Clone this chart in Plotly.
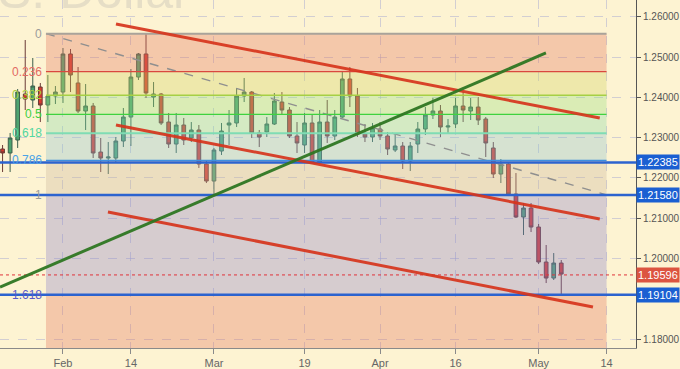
import plotly.graph_objects as go

# ---------------- data ----------------
day_index = list(range(-8, 67))  # business-day index, 0 = Feb 1
open_ = [1.22719, 1.22620, 1.22942, 1.24083, 1.23934, 1.24256, 1.23810, 1.24033,
         1.24132, 1.25075, 1.24356, 1.23661, 1.23785, 1.22644, 1.22495, 1.22495,
         1.22917, 1.23512, 1.24504, 1.25075, 1.24008, 1.24083, 1.23388, 1.22843,
         1.23314, 1.22992, 1.23190, 1.22347, 1.21925, 1.22669, 1.23314, 1.23364,
         1.24033, 1.24132, 1.23116, 1.23140, 1.23339, 1.23884, 1.23686, 1.23041,
         1.22818, 1.23364, 1.22396, 1.23388, 1.23041, 1.23512, 1.24455, 1.24033,
         1.23091, 1.23016, 1.23215, 1.23041, 1.22694, 1.22793, 1.22421, 1.22843,
         1.23215, 1.23562, 1.23661, 1.23264, 1.23339, 1.23785, 1.23661, 1.23760,
         1.23463, 1.22744, 1.22099, 1.22347, 1.21603, 1.21032, 1.21255, 1.20784,
         1.19916, 1.19519, 1.19891]
high = [1.22818, 1.23116, 1.24207, 1.25422, 1.24976, 1.24356, 1.24554, 1.24281,
        1.25224, 1.25199, 1.24752, 1.24331, 1.23860, 1.22992, 1.22892, 1.23016,
        1.23736, 1.24703, 1.25100, 1.25571, 1.24380, 1.24108, 1.23612, 1.23612,
        1.23488, 1.23388, 1.23314, 1.22446, 1.22744, 1.23364, 1.23686, 1.24232,
        1.24480, 1.24157, 1.23190, 1.23512, 1.24108, 1.24132, 1.23760, 1.23388,
        1.23612, 1.23562, 1.23686, 1.23934, 1.23686, 1.24628, 1.24752, 1.24232,
        1.23339, 1.23364, 1.23388, 1.23140, 1.23091, 1.22892, 1.22892, 1.23388,
        1.23760, 1.23984, 1.23810, 1.23463, 1.23984, 1.24132, 1.23984, 1.24008,
        1.23512, 1.22892, 1.22471, 1.22396, 1.22123, 1.21379, 1.21379, 1.20859,
        1.20338, 1.20139, 1.19966]
low = [1.22148, 1.22148, 1.22744, 1.23686, 1.23736, 1.23388, 1.23388, 1.23835,
       1.23860, 1.24132, 1.23612, 1.23190, 1.22495, 1.22148, 1.22099, 1.22396,
       1.22768, 1.22793, 1.24430, 1.23984, 1.23760, 1.23314, 1.22744, 1.22620,
       1.22818, 1.22892, 1.22248, 1.21875, 1.21578, 1.22570, 1.22818, 1.23264,
       1.23884, 1.22992, 1.22768, 1.23016, 1.23314, 1.23562, 1.22992, 1.22620,
       1.22620, 1.22371, 1.22371, 1.22868, 1.22942, 1.23488, 1.23760, 1.23016,
       1.22892, 1.22892, 1.22942, 1.22570, 1.22644, 1.22223, 1.22173, 1.22620,
       1.23066, 1.23463, 1.23016, 1.23116, 1.23240, 1.23388, 1.23438, 1.23314,
       1.22520, 1.21999, 1.21875, 1.21553, 1.21007, 1.20586, 1.20660, 1.19866,
       1.19395, 1.19470, 1.19122]
close = [1.22620, 1.22992, 1.24132, 1.23959, 1.24281, 1.23810, 1.24033, 1.24132,
         1.25075, 1.24554, 1.23661, 1.23785, 1.22620, 1.22495, 1.22520, 1.22917,
         1.23512, 1.24504, 1.25075, 1.24108, 1.24083, 1.23364, 1.22843, 1.23314,
         1.22942, 1.23190, 1.22347, 1.21925, 1.22694, 1.23165, 1.23364, 1.24033,
         1.24132, 1.23116, 1.23016, 1.23339, 1.23909, 1.23686, 1.23041, 1.22868,
         1.23364, 1.22396, 1.23388, 1.23041, 1.23512, 1.24455, 1.24033, 1.23091,
         1.23016, 1.23240, 1.23041, 1.22719, 1.22793, 1.22421, 1.22793, 1.23215,
         1.23562, 1.23661, 1.23264, 1.23289, 1.23785, 1.23686, 1.23760, 1.23438,
         1.22868, 1.22099, 1.22347, 1.21603, 1.21032, 1.21255, 1.20784, 1.19916,
         1.19519, 1.19891, 1.19618]

tick_positions = [0, 9, 20, 32, 42, 52, 63, 72]
tick_labels = ["Feb", "14", "Mar", "19", "Apr", "16", "May", "14"]
price_ticks = [1.18, 1.20, 1.21, 1.22, 1.23, 1.24, 1.25, 1.26]
x_range = [-8.34, 75.9]
y_range = [1.17784, 1.26414]

fib_top = 1.2558
fib_bottom = 1.2158
fib_start = -2.25
fib_end = 72.0
fib_ratios = [0, 0.236, 0.382, 0.5, 0.618, 0.786, 1, 1.618, 2.618]
fib_zone_colors = ["rgb(227,120,96)", "rgb(210,212,101)", "rgb(153,223,130)",
                   "rgb(136,217,170)", "rgb(141,194,210)", "rgb(204,183,159)",
                   "rgb(141,132,204)", "rgb(227,120,96)"]
fib_line_colors = ["#a9a39a", "#d9483f", "#a6cf45", "#3fd23f", "#7fdcb4",
                   "#3f8fe0", "#3f6fd0", "#5a55d0"]
fib_label_colors = ["#9b9b9b", "#e36a62", "#a9cf3f", "#3fcf3f", "#52d6a0",
                    "#4ba3e6", "#9b9b9b", "#5a5ac8"]
fib_labels = ["0", "0.236", "0.382", "0.5", "0.618", "0.786", "1", "1.618"]

level_prices = [1.22385, 1.21580, 1.19104]
last_price = 1.19596

trend_x0 = [7.02, 7.02, 5.96, -8.34]
trend_y0 = [1.25819, 1.23315, 1.21156, 1.19296]
trend_x1 = [71.1, 71.1, 70.2, 63.97]
trend_y1 = [1.23488, 1.20982, 1.18800, 1.25100]
trend_colors = ["rgba(214,52,28,0.92)", "rgba(214,52,28,0.92)",
                "rgba(214,52,28,0.92)", "rgba(46,118,34,0.95)"]

# ---------------- figure ----------------
fig = go.Figure()
fig.add_trace(go.Candlestick(
    x=day_index, open=open_, high=high, low=low, close=close,
    increasing=dict(fillcolor="#4ea370", line=dict(color="#3d5f4c", width=1)),
    decreasing=dict(fillcolor="#d8392f", line=dict(color="#6a3a36", width=1)),
    whiskerwidth=0, showlegend=False, hoverinfo="skip",
))

shapes = []
span = fib_top - fib_bottom
levels = [fib_top - r * span for r in fib_ratios]
for i, col in enumerate(fib_zone_colors):
    shapes.append(dict(type="rect", xref="x", yref="y", x0=fib_start, x1=fib_end,
                       y0=levels[i], y1=levels[i + 1], fillcolor=col, opacity=0.35,
                       line=dict(width=0), layer="above"))
# diagonal of the fib box
shapes.append(dict(type="line", xref="x", yref="y", x0=fib_start, y0=fib_top,
                   x1=fib_end, y1=fib_bottom, line=dict(color="#8f8f8f", width=1.4, dash="dash"),
                   layer="above"))
for i, col in enumerate(fib_line_colors):
    w = 2 if i in (0, 4) else 1.3
    shapes.append(dict(type="line", xref="x", yref="y", x0=fib_start, x1=fib_end,
                       y0=levels[i], y1=levels[i], line=dict(color=col, width=w),
                       layer="above"))
# full-width levels
for p in level_prices:
    shapes.append(dict(type="line", xref="paper", yref="y", x0=0, x1=1, y0=p, y1=p,
                       line=dict(color="#2c63cf", width=2.6), layer="above"))
shapes.append(dict(type="line", xref="paper", yref="y", x0=0, x1=1, y0=last_price,
                   y1=last_price, line=dict(color="#e0333a", width=1, dash="dot"),
                   layer="above"))
for x0, y0, x1, y1, c in zip(trend_x0, trend_y0, trend_x1, trend_y1, trend_colors):
    shapes.append(dict(type="line", xref="x", yref="y", x0=x0, y0=y0, x1=x1, y1=y1,
                       line=dict(color=c, width=3), layer="above"))

annotations = []
for lab, r, col in zip(fib_labels, fib_ratios, fib_label_colors):
    annotations.append(dict(x=fib_start, y=fib_top - r * span, xref="x", yref="y",
                            text=lab, showarrow=False, xanchor="right", yanchor="middle",
                            xshift=-2, font=dict(size=12, color=col)))
for p in level_prices:
    annotations.append(dict(x=1, y=p, xref="paper", yref="y", text=f"{p:.5f}",
                            showarrow=False, xanchor="left", yanchor="middle", xshift=0,
                            bgcolor="#1a5fd2", borderpad=1,
                            font=dict(size=11, color="white")))
annotations.append(dict(x=1, y=last_price, xref="paper", yref="y", text=f"{last_price:.5f}",
                        showarrow=False, xanchor="left", yanchor="middle", xshift=0,
                        bgcolor="#dc5440", borderpad=1, font=dict(size=11, color="white")))
annotations.append(dict(x=-0.085, y=0.94, xref="paper", yref="paper", text="U.S. Dollar",
                        showarrow=False, xanchor="left", yanchor="bottom",
                        font=dict(size=50, color="#e6dec6")))

fig.update_layout(
    width=680, height=369,
    margin=dict(l=0, r=44, t=0, b=21),
    paper_bgcolor="#fdf3d2", plot_bgcolor="#fdf3d2",
    font=dict(family="Liberation Sans, Arial, sans-serif", color="#666666"),
    shapes=shapes, annotations=annotations,
    showlegend=False,
)
fig.update_xaxes(range=x_range, tickmode="array", tickvals=tick_positions,
                 ticktext=tick_labels, rangeslider=dict(visible=False),
                 showgrid=True, gridcolor="rgba(175,175,210,0.55)", griddash="dash",
                 showline=True, linecolor="#8a8a8a", ticks="outside", ticklen=5,
                 tickcolor="#8a8a8a", tickfont=dict(size=11, color="#666666"),
                 zeroline=False)
fig.update_yaxes(range=y_range, side="right", tickmode="array", tickvals=price_ticks,
                 ticktext=[f"{v:.5f}" for v in price_ticks],
                 showgrid=True, gridcolor="rgba(175,175,210,0.55)", griddash="dash",
                 showline=True, linecolor="#555555", ticks="outside", ticklen=4,
                 tickcolor="#555555", tickfont=dict(size=10, color="#555555"),
                 zeroline=False)

fig.write_html("out.html", config={"displayModeBar": False},
               post_script="document.body.style.margin='0';document.body.style.background='#fdf3d2';")
